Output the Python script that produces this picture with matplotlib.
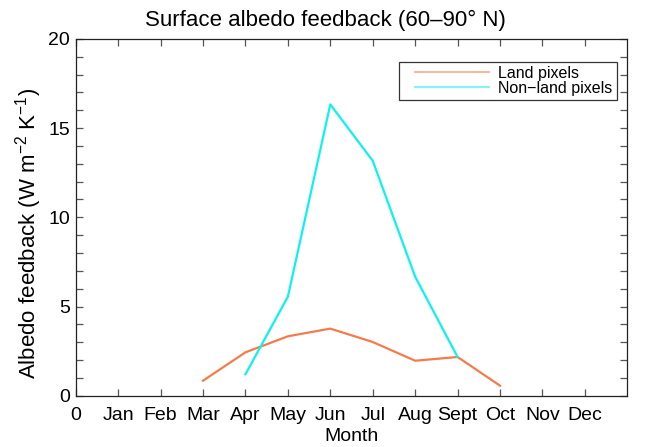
import matplotlib
matplotlib.use('Agg')
import matplotlib.pyplot as plt
from matplotlib.ticker import MultipleLocator
from matplotlib.legend_handler import HandlerLine2D

months = ['0', 'Jan', 'Feb', 'Mar', 'Apr', 'May', 'Jun', 'Jul', 'Aug', 'Sept', 'Oct', 'Nov', 'Dec']

# Land pixels: Mar..Oct
land_x = [3, 4, 5, 6, 7, 8, 9, 10]
land_y = [0.84, 2.43, 3.33, 3.76, 3.01, 1.96, 2.17, 0.56]

# Non-land pixels: Apr..Sept
ocean_x = [4, 5, 6, 7, 8, 9]
ocean_y = [1.20, 5.55, 16.33, 13.17, 6.67, 2.17]


def main():
  plt.rcParams['font.family'] = ['Liberation Sans', 'DejaVu Sans']
  plt.rcParams['mathtext.fontset'] = 'custom'
  plt.rcParams['mathtext.rm'] = 'Liberation Sans'
  plt.rcParams['mathtext.it'] = 'Liberation Sans'
  fig = plt.figure(figsize=(6.46, 4.47), dpi=100)
  ax = fig.add_axes([0.1172, 0.1148, 0.8539, 0.798])

  ax.plot(land_x, land_y, color='#f57b4a', lw=1.6, label='Land pixels')
  ax.plot(ocean_x, ocean_y, color='#0ff0f0', lw=1.6, label='Non\u2212land pixels')

  ax.set_xlim(0, 13)
  ax.set_ylim(0, 20)
  ax.set_xticks(range(len(months)))
  ax.set_xticklabels(months)
  ax.yaxis.set_major_locator(MultipleLocator(5))
  ax.yaxis.set_minor_locator(MultipleLocator(1))
  ax.tick_params(which='both', direction='in', top=True, right=True,
                 length=5, width=0.9, labelsize=14, colors='#555555',
                 labelcolor='black')
  ax.tick_params(axis='x', pad=8)
  ax.tick_params(axis='y', pad=4)
  for s in ax.spines.values():
    s.set_linewidth(0.9)
    s.set_color('#222222')

  ax.set_xlabel('Month', fontsize=14, labelpad=3)
  ax.set_ylabel('Albedo feedback (W m$^{-2}$ K$^{-1}$)', fontsize=16)
  ax.yaxis.set_label_coords(-0.058, 0.456)
  fig.suptitle('Surface albedo feedback (60\u201390\u00b0 N)', fontsize=16, x=0.503, y=0.978)

  # positive xpad pushes the handle line right, leaving a wider left margin
  handler = HandlerLine2D(xpad=0.74)
  leg = ax.legend(loc='upper right', bbox_to_anchor=(0.9805, 0.9364), fontsize=11.5,
                  frameon=True, fancybox=False, borderpad=0.25, labelspacing=0.0,
                  handlelength=5.365, handletextpad=0.585, borderaxespad=0,
                  handler_map={matplotlib.lines.Line2D: handler})
  leg.get_frame().set_edgecolor('black')
  leg.get_frame().set_linewidth(0.9)
  for line in leg.get_lines():
    line.set_alpha(0.55)
    line.set_linewidth(1.4)

  fig.savefig('out.png', dpi=100)


if __name__ == '__main__':
  main()
